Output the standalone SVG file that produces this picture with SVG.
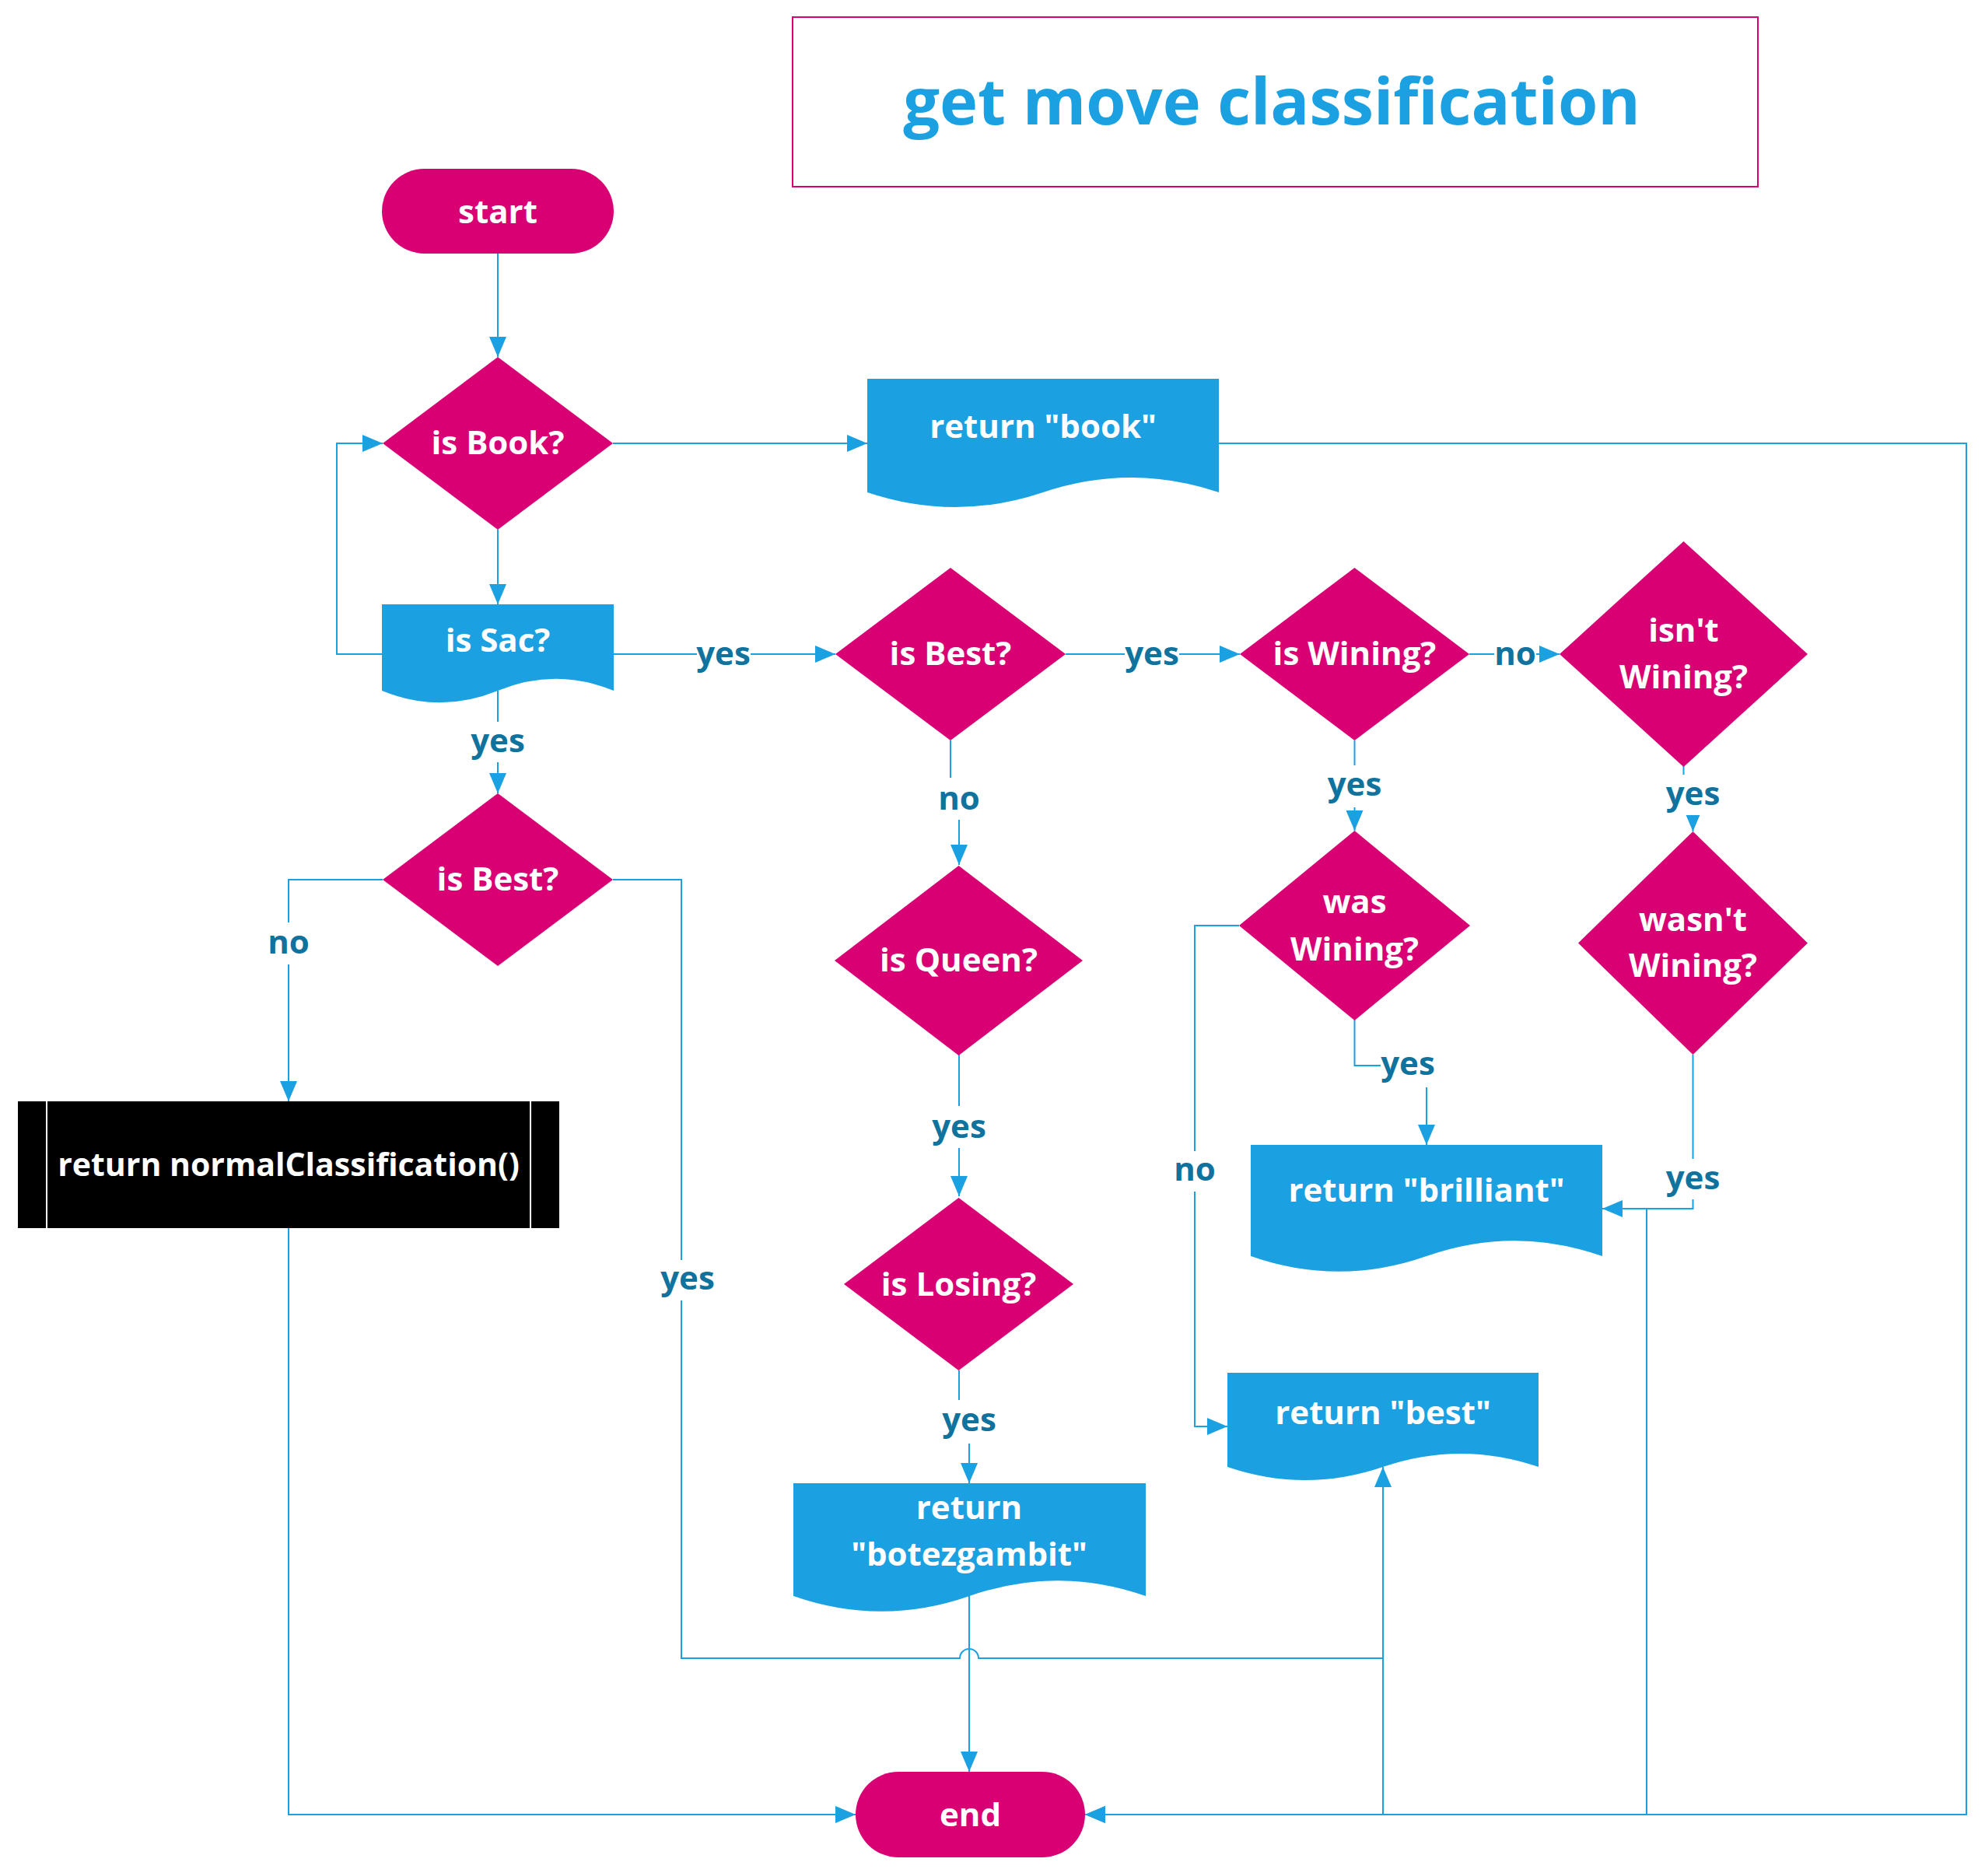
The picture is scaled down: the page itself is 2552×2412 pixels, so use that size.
<svg xmlns="http://www.w3.org/2000/svg" width="2552" height="2412" viewBox="0 0 2552 2412">
<style>
.t{font-family:"Open Sans","Liberation Sans",sans-serif;font-weight:700;font-size:42px;fill:#fff;text-anchor:middle}
.lb{font-family:"Open Sans","Liberation Sans",sans-serif;font-weight:700;font-size:42px;fill:#10739E;text-anchor:middle}
.ttl{font-family:"Open Sans","Liberation Sans",sans-serif;font-weight:700;font-size:83px;fill:#1BA1E2;text-anchor:middle}
.pk{fill:#D80073}
.bl{fill:#1BA1E2}
.ln{fill:none;stroke:#1BA1E2;stroke-width:2}
.ar{marker-end:url(#arr)}
.bg{fill:#fff}
</style>
<defs>
<marker id="arr" viewBox="0 0 26 22" refX="26" refY="11" markerWidth="26" markerHeight="22" markerUnits="userSpaceOnUse" orient="auto"><path d="M0,0 L26,11 L0,22 Z" fill="#1BA1E2"/></marker>
</defs>
<rect width="2552" height="2412" fill="#fff"/>

<g id="title">
<rect x="1019" y="22" width="1241" height="218" fill="#fff" stroke="#D80073" stroke-width="2"/>
<text class="ttl" x="1635" y="160">get move classification</text>
</g>

<g id="connectors">
<path class="ln ar" d="M640 326 V459"/>
<path class="ln ar" d="M788 570 H1115"/>
<path class="ln ar" d="M640 681 V777"/>
<path class="ln ar" d="M491 841 H433 V570 H492"/>
<path class="ln ar" d="M789 841 H1074"/>
<path class="ln ar" d="M1370 841 H1594"/>
<path class="ln ar" d="M1889 841 H2005"/>
<path class="ln ar" d="M640 888 V1020"/>
<path class="ln ar" d="M492 1131 H371 V1416"/>
<path class="ln ar" d="M788 1131 H876 V2132 H1234 A12 12 0 0 1 1258 2132 H1778 V1886"/>
<path class="ln ar" d="M1222 952 V1020 H1233 V1112"/>
<path class="ln ar" d="M1233 1356 V1538"/>
<path class="ln ar" d="M1233 1762 V1820 H1246 V1907"/>
<path class="ln ar" d="M1246 2052 V2278"/>
<path class="ln ar" d="M1741.5 952 V1068"/>
<path class="ln ar" d="M2164.5 985 V1010 H2176.5 V1069"/>
<path class="ln ar" d="M1741.5 1311 V1370 H1834 V1472"/>
<path class="ln ar" d="M1593 1190 H1536 V1834 H1578"/>
<path class="ln ar" d="M2176.5 1356 V1554 H2060"/>
<path class="ln ar" d="M2117 1554 V2333 H1395"/>
<path class="ln ar" d="M1567 570 H2528 V2333 H1395"/>
<path class="ln ar" d="M371 1579 V2333 H1100"/>
<path class="ln" d="M1778 1886 V2333 H1395"/>

<rect class="bg" x="896" y="820" width="69" height="48"/><text class="lb" x="930" y="855">yes</text>
<rect class="bg" x="1446" y="820" width="70" height="48"/><text class="lb" x="1481" y="855">yes</text>
<rect class="bg" x="1921" y="820" width="54" height="48"/><text class="lb" x="1948" y="855">no</text>
<rect class="bg" x="605" y="928" width="70" height="52"/><text class="lb" x="640" y="967">yes</text>
<rect class="bg" x="344" y="1186" width="54" height="54"/><text class="lb" x="371" y="1226">no</text>
<rect class="bg" x="849" y="1620" width="70" height="52"/><text class="lb" x="884" y="1658">yes</text>
<rect class="bg" x="1206" y="1000" width="54" height="54"/><text class="lb" x="1233" y="1041">no</text>
<rect class="bg" x="1198" y="1422" width="70" height="54"/><text class="lb" x="1233" y="1463">yes</text>
<rect class="bg" x="1211" y="1800" width="70" height="56"/><text class="lb" x="1246" y="1840">yes</text>
<rect class="bg" x="1706" y="984" width="71" height="54"/><text class="lb" x="1741.5" y="1023">yes</text>
<rect class="bg" x="2141" y="996" width="71" height="52"/><text class="lb" x="2176.5" y="1035">yes</text>
<rect class="bg" x="1775" y="1346" width="70" height="52"/><text class="lb" x="1810" y="1382">yes</text>
<rect class="bg" x="1509" y="1480" width="54" height="52"/><text class="lb" x="1536" y="1518">no</text>
<rect class="bg" x="2141" y="1490" width="71" height="52"/><text class="lb" x="2176.5" y="1529">yes</text>
</g>

<g id="start">
<rect class="pk" x="491" y="217" width="298" height="109" rx="54.5"/>
<text class="t" x="640" y="287">start</text>
</g>
<g id="isBook">
<polygon class="pk" points="640,459 788,570 640,681 492,570"/>
<text class="t" x="640" y="584">is Book?</text>
</g>
<g id="returnBook">
<path class="bl" d="M1115 487 H1567 V633 Q1454 595 1341 633 Q1228 671 1115 633 Z"/>
<text class="t" x="1341" y="563">return "book"</text>
</g>
<g id="isSac">
<path class="bl" d="M491 777 H789 V888 Q714.5 857.4 640 888 Q565.5 918.6 491 888 Z"/>
<text class="t" x="640" y="838">is Sac?</text>
</g>
<g id="isBestLeft">
<polygon class="pk" points="640,1020 788,1131 640,1242 492,1131"/>
<text class="t" x="640" y="1145">is Best?</text>
</g>
<g id="normalClassification">
<rect x="23" y="1416" width="696" height="163" fill="#000"/>
<line x1="60" y1="1416" x2="60" y2="1579" stroke="#fff" stroke-width="2"/>
<line x1="682" y1="1416" x2="682" y2="1579" stroke="#fff" stroke-width="2"/>
<text class="t" x="371" y="1512" style="font-size:41px">return normalClassification()</text>
</g>
<g id="isBestMid">
<polygon class="pk" points="1222,730 1370,841 1222,952 1074,841"/>
<text class="t" x="1222" y="855">is Best?</text>
</g>
<g id="isQueen">
<polygon class="pk" points="1232.5,1113 1392,1235 1232.5,1357 1073,1235"/>
<text class="t" x="1232.5" y="1249">is Queen?</text>
</g>
<g id="isLosing">
<polygon class="pk" points="1232.5,1540 1380,1651 1232.5,1762 1085,1651"/>
<text class="t" x="1232.5" y="1666">is Losing?</text>
</g>
<g id="returnBotezgambit">
<path class="bl" d="M1020 1907 H1473 V2052 Q1359.75 2012.4 1246.5 2052 Q1133.25 2091.6 1020 2052 Z"/>
<text class="t" x="1246" y="1953">return</text>
<text class="t" x="1246" y="2013">"botezgambit"</text>
</g>
<g id="isWining">
<polygon class="pk" points="1741.5,730 1889,841 1741.5,952 1594,841"/>
<text class="t" x="1741.5" y="855">is Wining?</text>
</g>
<g id="isntWining">
<polygon class="pk" points="2164.5,696 2324,841 2164.5,986 2005,841"/>
<text class="t" x="2164.5" y="825">isn't</text>
<text class="t" x="2164.5" y="885">Wining?</text>
</g>
<g id="wasWining">
<polygon class="pk" points="1741.5,1068 1890,1190 1741.5,1312 1593,1190"/>
<text class="t" x="1741.5" y="1174">was</text>
<text class="t" x="1741.5" y="1235">Wining?</text>
</g>
<g id="wasntWining">
<polygon class="pk" points="2176.5,1069 2324,1212.5 2176.5,1356 2029,1212.5"/>
<text class="t" x="2176.5" y="1197">wasn't</text>
<text class="t" x="2176.5" y="1256">Wining?</text>
</g>
<g id="returnBrilliant">
<path class="bl" d="M1608 1472 H2060 V1615 Q1947 1575.4 1834 1615 Q1721 1654.6 1608 1615 Z"/>
<text class="t" x="1834" y="1545">return "brilliant"</text>
</g>
<g id="returnBest">
<path class="bl" d="M1578 1765 H1978 V1886 Q1878 1851.8 1778 1886 Q1678 1920.2 1578 1886 Z"/>
<text class="t" x="1778" y="1831">return "best"</text>
</g>
<g id="end">
<rect class="pk" x="1100" y="2278" width="295" height="110" rx="55"/>
<text class="t" x="1247.5" y="2348">end</text>
</g>
</svg>
